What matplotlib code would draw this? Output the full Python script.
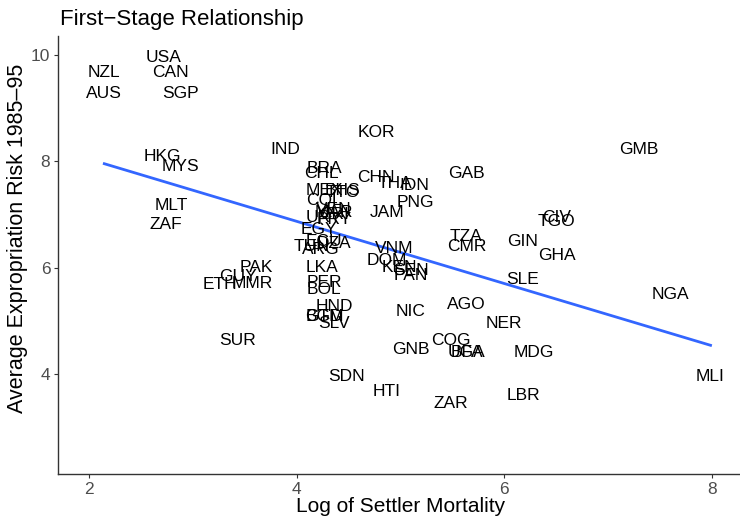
import numpy as np
import matplotlib
matplotlib.use("Agg")
import matplotlib.pyplot as plt
import matplotlib.transforms as mtransforms

# country codes, log settler mortality, average expropriation risk
codes = ["AGO", "ARG", "AUS", "BFA", "BGD", "BHS", "BOL", "BRA", "CAN", "CHL",
         "CHN", "CIV", "CMR", "COG", "COL", "CRI", "DOM", "DZA", "ECU", "EGY",
         "ETH", "GAB", "GHA", "GIN", "GMB", "GNB", "GTM", "GUY", "HKG", "HND",
         "HTI", "IDN", "IND", "JAM", "KEN", "KOR", "LBR", "LKA", "MAR", "MDG",
         "MEX", "MLI", "MLT", "MMR", "MYS", "NER", "NGA", "NIC", "NZL", "PAK",
         "PAN", "PER", "PNG", "PRY", "SDN", "SEN", "SGP", "SLE", "SLV", "SUR",
         "TGO", "THA", "TTO", "TUN", "TZA", "UGA", "URY", "USA", "VEN", "VNM",
         "ZAF", "ZAR"]
logem4 = [5.635, 4.233, 2.146, 5.635, 4.268, 4.443, 4.263, 4.263, 2.779, 4.233,
          4.760, 6.504, 5.635, 5.481, 4.263, 4.358, 4.868, 4.359, 4.263, 4.217,
          3.258, 5.635, 6.504, 6.180, 7.293, 5.100, 4.263, 3.434, 2.708, 4.358,
          4.868, 5.136, 3.885, 4.868, 4.990, 4.770, 6.180, 4.248, 4.359, 6.284,
          4.263, 7.986, 2.791, 3.570, 2.879, 5.991, 7.601, 5.100, 2.146, 3.611,
          5.100, 4.263, 5.140, 4.358, 4.475, 5.100, 2.879, 6.180, 4.358, 3.434,
          6.504, 4.942, 4.443, 4.145, 5.635, 5.635, 4.263, 2.715, 4.358, 4.942,
          2.741, 5.481]
avexpr = [5.364, 6.386, 9.318, 4.455, 5.136, 7.500, 5.636, 7.909, 9.727, 7.818,
          7.740, 7.000, 6.455, 4.682, 7.318, 7.045, 6.182, 6.500, 6.545, 6.773,
          5.727, 7.818, 6.273, 6.545, 8.273, 4.500, 5.136, 5.886, 8.136, 5.318,
          3.727, 7.591, 8.273, 7.091, 6.045, 8.590, 3.636, 6.045, 7.091, 4.455,
          7.500, 4.000, 7.227, 5.750, 7.955, 5.000, 5.545, 5.227, 9.727, 6.045,
          5.909, 5.773, 7.270, 6.955, 4.000, 6.000, 9.318, 5.818, 5.000, 4.682,
          6.909, 7.636, 7.455, 6.455, 6.636, 4.455, 7.000, 10.000, 7.136, 6.409,
          6.864, 3.500]

plt.rcParams['font.family'] = ['Liberation Sans', 'DejaVu Sans']

x = np.array(logem4)
y = np.array(avexpr)

fig = plt.figure(figsize=(7.4, 5.19), dpi=100)
ax = fig.add_axes([58/740, 45/519, 682/740, 438/519])

# labels sit a touch lower than matplotlib's bbox centre
lab_tr = mtransforms.offset_copy(ax.transData, fig=fig, y=-2.5, units="dots")
for c, xi, yi in zip(codes, x, y):
    ax.text(xi, yi, c, ha="center", va="center", fontsize=12.5,
            color="black", transform=lab_tr)

# linear fit
b, a = np.polyfit(x, y, 1)
xs = np.array([x.min(), x.max()])
ax.plot(xs, a + b * xs, color="#3366FF", lw=2)

ax.set_xlim(1.70, 8.27)
ax.set_ylim(2.12, 10.36)
ax.set_xticks([2, 4, 6, 8])
ax.set_yticks([4, 6, 8, 10])
for s in ["top", "right"]:
    ax.spines[s].set_visible(False)
for s in ["left", "bottom"]:
    ax.spines[s].set_color("#333333")
    ax.spines[s].set_linewidth(1.0)
ax.tick_params(length=3, width=0.8, color="#333333", labelcolor="#4D4D4D",
               labelsize=12.5, pad=2.5)

fig.text(60/740, 1 - 25/519, "First\u2212Stage Relationship", fontsize=16,
         va="baseline", ha="left")
fig.text(401/740, 1 - 507/519, "Log of Settler Mortality", fontsize=15,
         va="center", ha="center")
fig.text(18/740, 1 - 238/519, "Average Expropriation Risk 1985\u201395",
         fontsize=15.5, rotation=90, va="center", ha="center")

fig.savefig("out.png", dpi=100)
